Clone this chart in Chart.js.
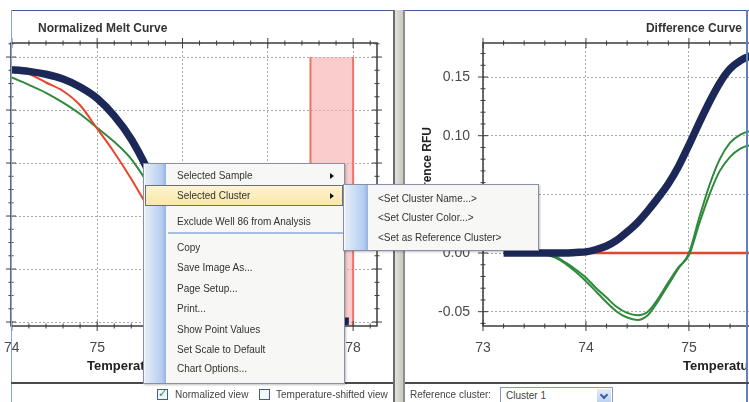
<!DOCTYPE html>
<html>
<head>
<meta charset="utf-8">
<script src="https://cdn.jsdelivr.net/npm/chart.js@4.4.1/dist/chart.umd.min.js"></script>
<style>
  html, body { margin: 0; padding: 0; }
  body {
    width: 749px; height: 402px; position: relative; overflow: hidden;
    background: #fff; font-family: "Liberation Sans", Arial, sans-serif; color: #333;
  }
  .abs { position: absolute; }
  #melt-wrap { left: -69px; top: 33px; width: 452px; height: 349px; z-index: 1; }
  #diff-wrap { left: 403px; top: 33px; width: 364px; height: 349px; z-index: 1; }
  .panel-title { font-weight: bold; font-size: 12px; color: #333; white-space: nowrap; z-index: 2; }
  .axis-title { font-weight: bold; font-size: 13px; color: #222; white-space: nowrap; z-index: 2; }
  .frame-top { left: 11px; top: 10px; width: 738px; height: 1px; background: #3e5f96; z-index: 3; }
  .frame-left { left: 11px; top: 10px; width: 1px; height: 392px; background: #86a6d6; z-index: 3; }
  .frame-right { left: 746px; top: 10px; width: 2px; height: 392px; background: #5f82bb; z-index: 3; }
  .bottom-line { left: 11px; top: 382px; width: 738px; height: 2px; background: #4a4a4a; z-index: 3; }
  .splitter {
    left: 393px; top: 10px; width: 8px; height: 392px; z-index: 4;
    background: linear-gradient(to right, #e2e2da, #c9c9c0);
    border-left: 2px solid #6c6c6c; border-right: 2px solid #8e8e8e;
  }
  .strip { font-size: 10px; color: #444; white-space: nowrap; z-index: 3; }
  .chk { width: 9px; height: 9px; border: 1px solid #3d5f8f; background: #f4f7fb; z-index: 3; }
  .chk span { position: absolute; left: 0px; top: -3px; font-size: 11px; color: #2f9a38; font-family: "DejaVu Sans", sans-serif; }
  .combo { left: 500px; top: 387px; width: 111px; height: 17px; border: 1px solid #7f9db9; background: #fff; z-index: 3; }
  .combo .txt { position: absolute; left: 5px; top: 2px; font-size: 10px; color: #444; }
  .combo .btn { position: absolute; right: 1px; top: 1px; width: 14px; height: 15px; background: linear-gradient(#e4edfb, #b9cdf0); }
  .combo .btn i { position: absolute; left: 4px; top: 3px; width: 4px; height: 4px; border-right: 2px solid #3a5fa8; border-bottom: 2px solid #3a5fa8; transform: rotate(45deg); }
  .menu {
    background: #f7f7f5; border: 1px solid #8a8ea6; z-index: 10;
    box-shadow: 1px 1px 2px rgba(0,0,0,0.25);
  }
  .gutter { position: absolute; left: 1px; top: 0; bottom: 0; width: 21px;
    background: linear-gradient(to right, #e4eefa, #b6cdee 80%, #93b3e2); }
  .item { position: absolute; font-size: 10px; line-height: 14px; color: #333; white-space: nowrap; }
  .hl { position: absolute; left: 1px; width: 196px;
    background: linear-gradient(#fdf4d2, #f9e7a8); border: 1px solid #6e6e78; }
  .sep { position: absolute; left: 24px; right: 1px; height: 2px; background: #a5bbe2; }
  .arrow { position: absolute; width: 0; height: 0; border-top: 3px solid transparent;
    border-bottom: 3px solid transparent; border-left: 4px solid #111; }
</style>
</head>
<body>

<div id="melt-wrap" class="abs"><canvas id="melt-chart"></canvas></div>
<div id="diff-wrap" class="abs"><canvas id="diff-chart"></canvas></div>

<div class="abs panel-title" style="left:38px;top:21px;">Normalized Melt Curve</div>
<div class="abs panel-title" style="right:7px;top:21px;">Difference Curve</div>
<div class="abs axis-title" style="left:87px;top:358px;">Temperature (°C)</div>
<div class="abs axis-title" style="left:683px;top:358px;">Temperature (°C)</div>
<div class="abs axis-title" style="left:377px;top:170px;width:100px;text-align:right;font-size:12px;transform:rotate(-90deg);transform-origin:50% 50%;">Difference RFU</div>

<div class="abs frame-top"></div>
<div class="abs frame-left"></div>
<div class="abs frame-right"></div>
<div class="abs bottom-line"></div>
<div class="abs splitter"></div>

<div class="abs chk" style="left:157px;top:389px;"><span>✓</span></div>
<div class="abs strip" style="left:175px;top:389px;">Normalized view</div>
<div class="abs chk" style="left:259px;top:389px;"></div>
<div class="abs strip" style="left:276px;top:389px;">Temperature-shifted view</div>
<div class="abs strip" style="left:410px;top:389px;">Reference cluster:</div>
<div class="abs combo"><div class="txt">Cluster 1</div><div class="btn"><i></i></div></div>

<div class="abs menu" style="left:143px;top:163px;width:200px;height:219px;">
  <div class="gutter"></div>
  <div class="hl" style="top:21px;height:19px;"></div>
  <div class="item" style="left:33px;top:5px;">Selected Sample</div>
  <div class="arrow" style="left:186px;top:9px;"></div>
  <div class="item" style="left:33px;top:25px;">Selected Cluster</div>
  <div class="arrow" style="left:186px;top:29px;"></div>
  <div class="item" style="left:33px;top:51px;">Exclude Well 86 from Analysis</div>
  <div class="sep" style="top:68px;"></div>
  <div class="item" style="left:33px;top:77px;">Copy</div>
  <div class="item" style="left:33px;top:97px;">Save Image As...</div>
  <div class="item" style="left:33px;top:118px;">Page Setup...</div>
  <div class="item" style="left:33px;top:138px;">Print...</div>
  <div class="item" style="left:33px;top:159px;">Show Point Values</div>
  <div class="item" style="left:33px;top:179px;">Set Scale to Default</div>
  <div class="item" style="left:33px;top:198px;">Chart Options...</div>
</div>

<div class="abs menu" style="left:343px;top:184px;width:194px;height:65px;">
  <div class="gutter" style="width:23px;"></div>
  <div class="item" style="left:34px;top:7px;">&lt;Set Cluster Name...&gt;</div>
  <div class="item" style="left:34px;top:26px;">&lt;Set Cluster Color...&gt;</div>
  <div class="item" style="left:34px;top:46px;">&lt;Set as Reference Cluster&gt;</div>
</div>

<script>
// Normalized melt curve (left)
const meltTemps = [73.95, 74.2, 74.4, 74.6, 74.8, 75.0, 75.2, 75.4, 75.6, 75.8, 76.0, 76.3, 76.6, 77.0, 77.5, 77.95];
const meltCluster1 = [95.3, 94.6, 93.5, 91.7, 88.7, 84.4, 77.8, 69, 57, 43, 30, 16, 7.5, 2.5, 0.8, 0.3];
const meltCluster2 = [95.3, 93.6, 90.4, 87.2, 81.8, 73, 64, 54, 43, 32, 22, 11, 4.5, 1.2, 0.3, 0];
const meltCluster3 = [93, 89.5, 86.5, 82.8, 78.5, 73.3, 68, 61.5, 52, 41, 31, 18, 9, 3, 0.8, 0.2];
const meltRegion = [77.5, 78.0];
const meltRegionTop = 100;
const meltXTicks = [74, 75, 76, 77, 78];

// Difference curve (right)
const diffTemps = [73.2, 73.5, 73.6, 73.7, 73.8, 73.9, 74.0, 74.1, 74.2, 74.3, 74.4, 74.5, 74.6, 74.7, 74.8, 74.9, 75.0, 75.1, 75.2, 75.3, 75.4, 75.5, 75.6, 75.7];
const diffCluster1 = [0, 0, 0, 0, 0, 0.0005, 0.001, 0.003, 0.006, 0.011, 0.018, 0.026, 0.036, 0.047, 0.059, 0.074, 0.092, 0.111, 0.129, 0.145, 0.157, 0.164, 0.168, 0.170];
const diffRef = [0, 0, 0, 0, 0, 0, 0, 0, 0, 0, 0, 0, 0, 0, 0, 0, 0, 0, 0, 0, 0, 0, 0, 0];
const diffWellA = [0, 0, -0.001, -0.004, -0.009, -0.016, -0.024, -0.033, -0.042, -0.050, -0.055, -0.057, -0.053, -0.041, -0.027, -0.013, 0.0, 0.03, 0.058, 0.08, 0.094, 0.101, 0.104, 0.105];
const diffWellB = [0, 0, -0.001, -0.003, -0.008, -0.014, -0.021, -0.030, -0.038, -0.046, -0.051, -0.053, -0.050, -0.039, -0.025, -0.012, -0.002, 0.025, 0.05, 0.07, 0.082, 0.089, 0.092, 0.093];
const diffYTicks = [-0.05, 0, 0.05, 0.10, 0.15];

const NAVY = "#1c2858";
const RED = "#e8452e";
const GREEN = "#2f8a3c";
const tickFont = { family: "Liberation Sans, Arial, sans-serif", size: 14 };

function pts(xs, ys) {
  return xs.map((x, i) => ({ x: x, y: ys[i] }));
}

// keep the plot box where it is, labels are allowed to hang over
function fixY(w) {
  return s => { s.width = w; s.paddingTop = 0; s.paddingBottom = 0; };
}
function fixX(h) {
  return s => { s.height = h; s.paddingLeft = 0; s.paddingRight = 0; };
}

// frame box around the plot with major and minor ticks on all sides
const boxTicks = {
  id: "boxTicks",
  afterDatasetsDraw(chart, args, opts) {
    const { ctx, chartArea: a, scales } = chart;
    const x = scales.x, y = scales.y;
    ctx.save();
    ctx.strokeStyle = "#3c3c3c";
    ctx.lineWidth = 1.5;
    ctx.strokeRect(a.left, a.top, a.right - a.left, a.bottom - a.top);
    ctx.lineWidth = 1;
    function seg(x1, y1, x2, y2) {
      ctx.beginPath(); ctx.moveTo(x1, y1); ctx.lineTo(x2, y2); ctx.stroke();
    }
    for (let i = Math.ceil(x.min / opts.xMinor); i * opts.xMinor <= x.max; i++) {
      const px = x.getPixelForValue(i * opts.xMinor);
      const len = i % opts.xRatio === 0 ? 5 : 2.5;
      seg(px, a.bottom - len, px, a.bottom + len);
      seg(px, a.top - len, px, a.top + len);
    }
    for (let i = Math.ceil(y.min / opts.yMinor); i * opts.yMinor <= y.max; i++) {
      const py = y.getPixelForValue(i * opts.yMinor);
      const len = i % opts.yRatio === 0 ? 5 : 2.5;
      seg(a.left - len, py, a.left + len, py);
      seg(a.right - len, py, a.right + len, py);
    }
    ctx.restore();
  }
};

function lineSet(data, color, width, order) {
  return {
    data: data, borderColor: color, borderWidth: width, pointRadius: 0,
    cubicInterpolationMode: "monotone", fill: false, order: order
  };
}

new Chart(document.getElementById("melt-chart"), {
  type: "line",
  data: {
    datasets: [
      lineSet(pts(meltTemps, meltCluster1), NAVY, 7.5, 1),
      lineSet(pts(meltTemps, meltCluster2), RED, 2, 2),
      lineSet(pts(meltTemps, meltCluster3), GREEN, 2, 3),
      {
        data: [
          { x: meltRegion[0], y: -1.5 }, { x: meltRegion[0], y: meltRegionTop },
          { x: meltRegion[1], y: meltRegionTop }, { x: meltRegion[1], y: -1.5 }
        ],
        borderColor: "#ec7663", borderWidth: 2, backgroundColor: "rgba(246,170,170,0.6)",
        pointRadius: 0, fill: "start", order: 4,
        segment: { borderColor: c => c.p0DataIndex === 1 ? "rgba(0,0,0,0)" : "#ec7663" }
      }
    ]
  },
  options: {
    responsive: true, maintainAspectRatio: false, animation: false,
    layout: { padding: { top: 10, right: 6, bottom: 0, left: 0 } },
    plugins: {
      legend: { display: false }, tooltip: { enabled: false },
      boxTicks: { xMinor: 0.2, xRatio: 5, yMinor: 5, yRatio: 4 }
    },
    scales: {
      x: {
        type: "linear", min: 73.99, max: 78.28,
        afterFit: fixX(56),
        afterBuildTicks: s => { s.ticks = meltXTicks.map(v => ({ value: v })); },
        ticks: { padding: 14, color: "#4a4a4a", font: tickFont },
        grid: { color: "#a8a8a8", drawTicks: false },
        border: { display: false, dash: [2, 2] }
      },
      y: {
        min: -1.5, max: 105.3,
        afterFit: fixY(80),
        ticks: { stepSize: 20, includeBounds: false, padding: 14, color: "#4a4a4a", font: tickFont },
        grid: { color: "#a8a8a8", drawTicks: false },
        border: { display: false, dash: [2, 2] }
      }
    }
  },
  plugins: [boxTicks]
});

new Chart(document.getElementById("diff-chart"), {
  type: "line",
  data: {
    datasets: [
      lineSet(pts(diffTemps, diffCluster1), NAVY, 7.5, 1),
      lineSet(pts(diffTemps, diffWellA), GREEN, 2, 2),
      lineSet(pts(diffTemps, diffWellB), GREEN, 2, 3),
      lineSet(pts(diffTemps, diffRef), RED, 2.5, 4)
    ]
  },
  options: {
    responsive: true, maintainAspectRatio: false, animation: false,
    layout: { padding: { top: 10, right: 6, bottom: 0, left: 0 } },
    plugins: {
      legend: { display: false }, tooltip: { enabled: false },
      boxTicks: { xMinor: 0.2, xRatio: 5, yMinor: 0.01, yRatio: 5 }
    },
    scales: {
      x: {
        type: "linear", min: 73, max: 75.7,
        afterFit: fixX(56),
        ticks: { stepSize: 1, includeBounds: false, padding: 14, color: "#4a4a4a", font: tickFont },
        grid: { color: "#a8a8a8", drawTicks: false },
        border: { display: false, dash: [2, 2] }
      },
      y: {
        min: -0.0622, max: 0.179,
        afterFit: fixY(80),
        afterBuildTicks: s => { s.ticks = diffYTicks.map(v => ({ value: v })); },
        ticks: { padding: 13, color: "#4a4a4a", font: tickFont, callback: v => v.toFixed(2) },
        grid: { color: "#a8a8a8", drawTicks: false },
        border: { display: false, dash: [2, 2] }
      }
    }
  },
  plugins: [boxTicks]
});
</script>
</body>
</html>
